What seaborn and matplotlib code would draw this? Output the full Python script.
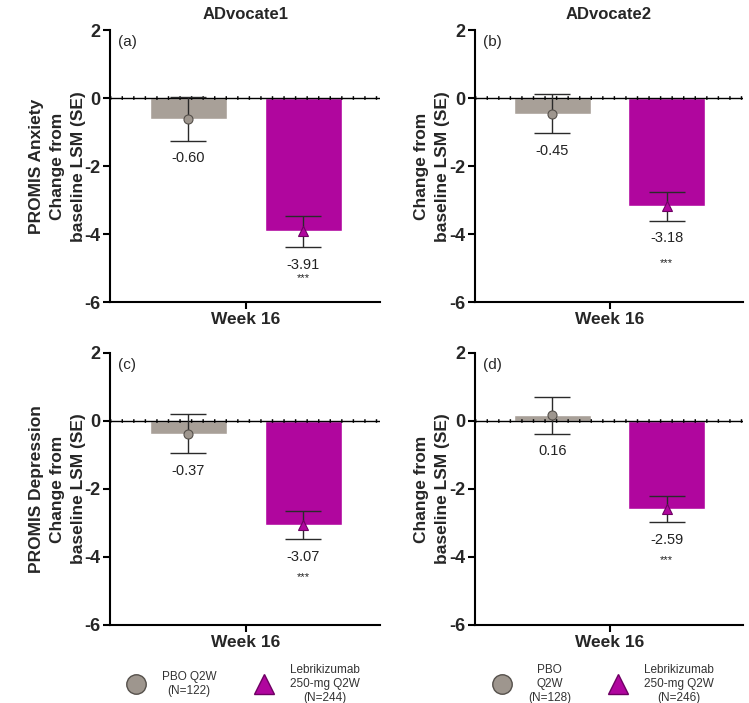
import numpy as np
import pandas as pd
import matplotlib
matplotlib.use('Agg')
import matplotlib.pyplot as plt
from matplotlib.lines import Line2D
import seaborn as sns

sns.set_style('white')
plt.rcParams['font.family'] = ['Liberation Sans', 'DejaVu Sans']

# data
arms = ['PBO Q2W', 'Lebrikizumab 250-mg Q2W']
panels = ['(a)', '(b)', '(c)', '(d)']
studies = ['ADvocate1', 'ADvocate2']
outcomes = ['PROMIS Anxiety', 'PROMIS Depression']
lsm_a = [-0.60, -3.91]
se_a = [0.65, 0.46]
lsm_b = [-0.45, -3.18]
se_b = [0.57, 0.42]
lsm_c = [-0.37, -3.07]
se_c = [0.58, 0.41]
lsm_d = [0.16, -2.59]
se_d = [0.53, 0.38]
signif = ['', '***']
legend_left = ['PBO Q2W\n(N=122)', 'Lebrikizumab\n250-mg Q2W\n(N=244)']
legend_right = ['PBO\nQ2W\n(N=128)', 'Lebrikizumab\n250-mg Q2W\n(N=246)']

bar_colors = ['#A8A098', '#B0069E']
mk_face = ['#9E968E', '#B0069E']
mk_edge = ['#55504B', '#6E0063']
markers = ['o', '^']
star_gap = [0.92, 1.25, 1.11, 1.12]

fig = plt.figure(figsize=(7.49, 7.03), dpi=100)
boxes = [
    [0.147, 0.570, 0.361, 0.387],
    [0.634, 0.570, 0.358, 0.387],
    [0.147, 0.111, 0.361, 0.387],
    [0.634, 0.111, 0.358, 0.387],
]
all_lsm = [lsm_a, lsm_b, lsm_c, lsm_d]
all_se = [se_a, se_b, se_c, se_d]

for i in range(4):
    ax = fig.add_axes(boxes[i])
    df = pd.DataFrame({'arm': arms, 'lsm': all_lsm[i]})
    sns.barplot(data=df, x='arm', y='lsm', hue='arm', order=arms,
                palette=bar_colors, width=0.67, legend=False,
                errorbar=None, saturation=1, ax=ax)
    ax.axhline(0, color='black', lw=1.0, zorder=3)
    ax.axhline(0, color='black', lw=2.6, ls=(0, (0.4, 2.8)), zorder=3)
    for j in range(2):
        ax.errorbar(j, all_lsm[i][j], yerr=all_se[i][j], fmt='none',
                    ecolor='#2a2a2a', elinewidth=1.0, capsize=13,
                    capthick=1.0, zorder=4)
        ax.plot(j, all_lsm[i][j], marker=markers[j], ms=6.5,
                mfc=mk_face[j], mec=mk_edge[j], mew=0.8, zorder=5)
        low = all_lsm[i][j] - all_se[i][j]
        ax.text(j, low - 0.52, f'{all_lsm[i][j]:.2f}', ha='center',
                va='center', fontsize=10.5, color='#222222')
        if signif[j]:
            ax.text(j, low - star_gap[i], signif[j], ha='center',
                    va='center', fontsize=8, color='#222222')
    ax.set_xlim(-0.68, 1.67)
    ax.set_ylim(-6, 2)
    ax.set_yticks([2, 0, -2, -4, -6])
    ax.set_yticklabels(['2', '0', '-2', '-4', '-6'], fontsize=13,
                       fontweight='bold')
    ax.set_xticks([0.5])
    ax.set_xticklabels(['Week 16'], fontsize=12.5, fontweight='bold')
    ax.tick_params(axis='both', direction='out', length=5, width=1.5,
                   color='black', pad=2, bottom=True, left=True)
    for s in ['top', 'right']:
        ax.spines[s].set_visible(False)
    for s in ['left', 'bottom']:
        ax.spines[s].set_linewidth(1.5)
        ax.spines[s].set_color('black')
    ax.set_xlabel('')
    if i % 2 == 0:
        ylab = outcomes[i // 2] + '\nChange from\nbaseline LSM (SE)'
    else:
        ylab = 'Change from\nbaseline LSM (SE)'
    ax.set_ylabel(ylab, fontsize=12.5, fontweight='bold', labelpad=-1,
                  linespacing=1.5)
    if i < 2:
        ax.set_title(studies[i], fontsize=12, fontweight='bold', pad=8)
    ax.text(0.03, 0.955, panels[i], transform=ax.transAxes, fontsize=11,
            ha='left', va='center')

for labels, xc in [(legend_left, 0.323), (legend_right, 0.804)]:
    handles = [Line2D([], [], ls='none', marker=markers[k], ms=14,
                      mfc=mk_face[k], mec=mk_edge[k], mew=1.0)
               for k in range(2)]
    leg = fig.legend(handles, labels, loc='center', ncol=2,
                     bbox_to_anchor=(xc, 0.027), frameon=False,
                     fontsize=8.5, handletextpad=1.2, columnspacing=3.0,
                     labelcolor='#333333')
    for t in leg.get_texts():
        t.set_multialignment('center')

fig.savefig('out.png', dpi=100)
